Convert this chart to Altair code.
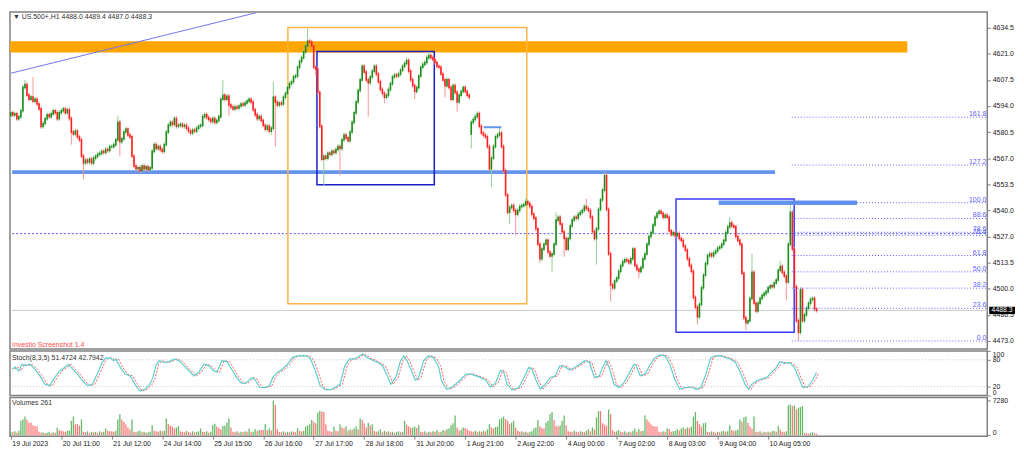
import altair as alt
import pandas as pd

FONT = "Liberation Sans"

# ---------------- data ----------------
# hourly closes, 25 bars per time-label interval
c0 = [4590.5, 4589.4, 4589.9, 4587.4, 4588.4, 4591.5, 4603.6, 4605.1, 4599.6, 4597.5, 4598.6, 4596.5, 4597.5,
      4595.0, 4592.5, 4583.4, 4584.9, 4587.4, 4589.4, 4588.4, 4589.9, 4591.5, 4590.5, 4587.4, 4590.5]
c1 = [4591.5, 4592.5, 4590.5, 4592.0, 4587.5, 4580.5, 4579.5, 4581.0, 4578.0, 4576.5, 4568.0, 4564.5, 4566.0,
      4565.0, 4566.5, 4564.5, 4567.0, 4568.0, 4569.0, 4569.5, 4570.5, 4570.0, 4571.5, 4571.0, 4573.0]
c2 = [4573.0, 4574.0, 4576.5, 4585.5, 4575.5, 4577.0, 4580.5, 4582.0, 4579.0, 4578.0, 4568.0, 4563.0, 4561.5,
      4562.0, 4560.5, 4563.0, 4561.5, 4562.5, 4561.0, 4562.0, 4570.5, 4574.0, 4572.0, 4573.0, 4571.5]
c3 = [4570.5, 4574.0, 4580.5, 4584.0, 4585.5, 4584.5, 4587.5, 4583.5, 4584.0, 4584.5, 4583.5, 4584.0, 4582.5,
      4581.0, 4580.0, 4581.5, 4581.0, 4582.5, 4583.5, 4584.0, 4588.5, 4589.5, 4588.0, 4587.0, 4586.0]
c4 = [4587.5, 4585.5, 4586.5, 4588.5, 4597.5, 4599.5, 4597.5, 4599.0, 4594.5, 4593.5, 4592.5, 4593.5, 4593.0,
      4594.0, 4595.0, 4594.5, 4595.5, 4596.5, 4597.5, 4596.0, 4592.0, 4589.5, 4587.5, 4588.5, 4586.5]
c5 = [4584.0, 4582.0, 4583.5, 4581.0, 4582.5, 4598.5, 4596.0, 4594.5, 4595.5, 4595.0, 4598.5, 4600.5, 4603.5,
      4605.5, 4606.5, 4609.0, 4609.5, 4614.0, 4617.0, 4619.0, 4622.0, 4625.0, 4627.5, 4627.0, 4625.0]
c6 = [4614.0, 4613.0, 4601.0, 4583.5, 4566.5, 4568.0, 4567.0, 4569.5, 4569.0, 4570.5, 4570.0, 4571.5, 4573.0,
      4572.0, 4576.5, 4579.0, 4577.5, 4576.0, 4580.5, 4585.5, 4590.5, 4596.0, 4602.0, 4607.5, 4614.5]
c7 = [4611.5, 4607.5, 4606.0, 4609.0, 4612.0, 4614.5, 4610.5, 4606.5, 4602.5, 4600.5, 4598.5, 4599.5, 4602.5,
      4605.5, 4609.0, 4610.0, 4609.5, 4610.5, 4612.5, 4614.5, 4616.0, 4617.5, 4612.0, 4607.5, 4604.5]
c8 = [4601.5, 4603.5, 4609.5, 4614.0, 4615.5, 4616.5, 4619.0, 4620.0, 4619.0, 4618.0, 4616.5, 4614.5, 4614.0,
      4610.5, 4607.5, 4604.5, 4607.5, 4603.5, 4597.5, 4604.5, 4601.0, 4596.0, 4599.5, 4601.5, 4603.5]
c9 = [4601.5, 4599.5, 4598.5, 4585.5, 4587.0, 4588.5, 4590.0, 4583.5, 4580.0, 4579.0, 4578.0, 4573.0, 4561.5,
      4567.0, 4573.0, 4578.0, 4579.0, 4580.0, 4573.0, 4560.5, 4548.0, 4539.0, 4541.5, 4542.5, 4540.0]
c10 = [4538.0, 4540.0, 4542.0, 4542.5, 4543.0, 4544.5, 4543.5, 4542.0, 4538.0, 4536.0, 4530.5, 4522.5, 4515.0,
       4520.0, 4522.5, 4524.5, 4518.5, 4516.5, 4517.5, 4522.5, 4535.0, 4536.5, 4533.0, 4529.0, 4525.5]
c11 = [4520.0, 4525.5, 4532.0, 4535.0, 4536.5, 4536.0, 4538.0, 4539.0, 4540.0, 4542.0, 4541.0, 4540.0, 4536.5,
       4529.0, 4525.5, 4530.5, 4540.5, 4545.5, 4550.5, 4558.0, 4540.5, 4517.5, 4501.5, 4500.0, 4503.5]
c12 = [4505.0, 4508.5, 4511.5, 4513.5, 4514.5, 4514.0, 4513.0, 4515.0, 4520.0, 4511.5, 4509.5, 4508.5, 4510.5,
       4515.0, 4517.5, 4522.5, 4526.5, 4528.5, 4532.5, 4536.5, 4538.5, 4539.5, 4538.5, 4536.5, 4537.5]
c13 = [4536.5, 4529.5, 4527.5, 4528.5, 4527.0, 4528.0, 4525.5, 4524.5, 4521.5, 4519.5, 4515.0, 4511.5, 4508.5,
       4495.0, 4490.0, 4485.0, 4491.5, 4500.0, 4506.5, 4512.5, 4516.5, 4517.5, 4516.5, 4518.0, 4519.0]
c14 = [4520.5, 4521.0, 4522.5, 4524.5, 4528.5, 4531.5, 4533.5, 4532.0, 4531.5, 4526.5, 4524.5, 4522.5, 4507.5,
       4484.5, 4482.0, 4483.0, 4494.5, 4508.0, 4492.0, 4488.0, 4492.0, 4494.5, 4496.0, 4497.0, 4498.0]
c15 = [4500.0, 4501.0, 4500.5, 4502.5, 4504.0, 4509.0, 4511.0, 4508.0, 4506.0, 4503.0, 4522.5, 4539.0, 4520.0,
       4500.5, 4483.0, 4477.0, 4499.0, 4483.0, 4486.0, 4489.5, 4492.0, 4494.0, 4494.5, 4489.0, 4488.3]
close = c0 + c1 + c2 + c3 + c4 + c5 + c6 + c7 + c8 + c9 + c10 + c11 + c12 + c13 + c14 + c15

first_open = 4589.0
open_gap = {228: 4579.5}
high_ext = {7: 4607.5, 11: 4609.0, 53: 4589.0, 105: 4607.5, 130: 4606.5, 147: 4634.0, 196: 4619.0,
            207: 4622.0, 242: 4583.5, 255: 4546.5, 270: 4539.0, 285: 4546.0, 294: 4560.0, 356: 4536.5,
            367: 4517.5, 381: 4514.0, 386: 4544.0}
low_ext = {30: 4574.0, 36: 4556.0, 54: 4568.0, 108: 4589.0, 129: 4579.0, 131: 4573.0, 151: 4609.5,
           155: 4553.0, 163: 4558.0, 177: 4588.5, 185: 4595.5, 200: 4597.5, 215: 4598.5, 221: 4591.0,
           228: 4572.0, 238: 4552.0, 247: 4533.0, 250: 4527.0, 262: 4513.0, 268: 4508.0, 274: 4516.0,
           290: 4512.0, 297: 4493.0, 311: 4505.0, 340: 4481.0, 364: 4478.0, 384: 4493.5, 390: 4472.5}
wick = 1.2

v0 = [700, 600, 800, 500, 900, 3000, 3300, 3900, 3300, 2600, 2600, 2100, 1900, 1800, 700, 500, 600, 400, 500, 700, 400, 600, 500, 1600, 1100]
v1 = [900, 800, 700, 900, 1000, 3000, 3900, 2300, 2300, 2000, 3300, 700, 600, 800, 500, 700, 600, 700, 500, 800, 600, 700, 1400, 900, 800]
v2 = [800, 700, 900, 3300, 4400, 3300, 2800, 2300, 1600, 1200, 3300, 700, 600, 800, 1000, 600, 700, 500, 600, 700, 2100, 900, 800, 700, 900]
v3 = [800, 900, 3500, 2300, 2000, 1800, 1400, 1600, 1900, 800, 700, 600, 900, 700, 500, 800, 600, 700, 800, 1400, 700, 600, 800, 500, 700]
v4 = [2100, 2400, 1800, 1500, 1250, 1900, 2000, 2600, 3500, 1600, 700, 600, 800, 500, 700, 600, 800, 700, 1400, 600, 700, 1250, 800, 1100, 1100]
v5 = [1100, 2300, 1100, 1400, 1000, 7280, 6400, 1250, 700, 600, 800, 500, 700, 600, 800, 700, 600, 1450, 900, 800, 900, 1800, 2000, 2300, 3200]
v6 = [2800, 2500, 4700, 5100, 4900, 4850, 2300, 900, 800, 700, 1800, 900, 800, 2300, 1600, 1400, 1800, 1000, 1200, 1100, 1400, 1800, 1200, 3500, 3200]
v7 = [2500, 1600, 2600, 2000, 2300, 900, 700, 800, 1250, 600, 900, 700, 800, 600, 700, 500, 700, 800, 600, 700, 3000, 2200, 1800, 1500, 1600]
v8 = [1800, 1500, 2100, 700, 600, 800, 500, 700, 600, 800, 700, 1100, 600, 700, 1100, 900, 1250, 1400, 2100, 2500, 4150, 1600, 1000, 1200, 1600]
v9 = [1500, 1250, 900, 800, 700, 900, 600, 800, 700, 900, 800, 1200, 2300, 1600, 1400, 1700, 1800, 3300, 3600, 3900, 3400, 3000, 2300, 2600, 3000]
v10 = [1600, 900, 700, 800, 600, 700, 500, 700, 800, 1400, 1600, 3200, 1800, 1500, 1400, 2600, 3000, 4400, 4850, 3200, 1950, 1800, 2100, 3000, 4150]
v11 = [2000, 800, 700, 600, 900, 700, 600, 800, 700, 600, 900, 1250, 800, 1600, 1200, 3700, 5050, 5050, 2500, 2200, 1950, 5400, 4400, 1000, 700]
v12 = [800, 1100, 700, 600, 800, 500, 700, 600, 900, 1400, 700, 1250, 800, 900, 4150, 3300, 2800, 2300, 1900, 1800, 1800, 700, 600, 800, 700]
v13 = [1400, 1300, 700, 800, 900, 1250, 1000, 1400, 1600, 1300, 1600, 1500, 1800, 3900, 4850, 3000, 2300, 1800, 2500, 2600, 700, 600, 800, 700, 500]
v14 = [700, 600, 800, 900, 700, 800, 2100, 1100, 900, 1000, 1200, 3300, 2800, 3700, 3900, 2600, 1800, 1400, 3900, 700, 600, 800, 500, 700, 600]
v15 = [700, 600, 800, 900, 700, 1950, 1200, 700, 600, 800, 6250, 6450, 6100, 6250, 5400, 5750, 5900, 6100, 500, 400, 300, 500, 600, 400, 261]
volume = v0 + v1 + v2 + v3 + v4 + v5 + v6 + v7 + v8 + v9 + v10 + v11 + v12 + v13 + v14 + v15

stoch_x = [0.6, 2.2, 3.9, 5.5, 7.1, 9.5, 12.0, 14.4, 16.9, 19.3,
           21.7, 24.2, 26.6, 28.7, 30.6, 33.1, 35.5, 38.0, 40.4, 42.8,
           45.3, 46.9, 49.3, 51.0, 52.1, 54.2, 56.6, 59.1, 61.5, 63.9,
           66.4, 68.8, 70.4, 72.0, 73.7, 76.1, 78.5, 81.0, 83.4, 85.8,
           88.3, 90.7, 93.1, 95.6, 98.0, 100.5, 102.1, 104.5, 107.0, 109.4,
           111.8, 114.3, 116.7, 119.1, 120.7, 123.2, 125.6, 128.1, 129.7, 132.1,
           134.5, 137.0, 139.4, 141.9, 144.3, 146.7, 148.4, 150.8, 153.2, 155.7,
           158.1, 160.5, 163.0, 165.4, 167.8, 170.3, 172.7, 174.3, 176.8, 179.2,
           181.6, 184.1, 186.5, 188.1, 190.6, 193.0, 194.6, 196.2, 198.7, 200.3,
           201.9, 204.4, 206.8, 209.2, 211.7, 213.3, 215.7, 218.2, 220.6, 223.0,
           225.5, 227.9, 230.3, 232.8, 235.2, 237.6, 240.1, 242.5, 244.1, 245.8,
           248.2, 251.6, 254.1, 256.5, 258.1, 259.8, 262.2, 264.6, 267.1, 269.5,
           271.9, 274.4, 276.8, 279.2, 281.7, 284.1, 286.5, 289.0, 291.4, 293.0,
           294.7, 296.3, 298.7, 301.1, 303.6, 306.0, 308.5, 309.6, 311.7, 314.1,
           316.6, 319.0, 321.4, 323.9, 326.3, 328.7, 331.2, 333.6, 336.9, 339.3,
           341.7, 344.2, 346.6, 349.0, 351.5, 353.9, 356.3, 358.8, 361.2, 363.6,
           365.3, 366.9, 369.3, 371.8, 374.2, 376.6, 379.1, 380.7, 383.1, 385.6,
           388.0, 390.4, 392.1, 394.5, 396.9, 398.9]
stoch_k = [59, 64, 55, 70, 67, 70, 59, 44, 25, 22,
           40, 55, 63, 70, 59, 48, 33, 22, 25, 48,
           74, 84, 84, 78, 82, 63, 48, 44, 25, 10,
           14, 25, 40, 70, 78, 74, 76, 82, 78, 67,
           55, 44, 52, 70, 67, 55, 52, 78, 76, 59,
           40, 27, 29, 40, 37, 18, 18, 22, 40, 52,
           59, 70, 85, 89, 89, 89, 82, 55, 22, 13,
           13, 18, 25, 67, 82, 82, 89, 93, 84, 79,
           74, 67, 44, 25, 40, 78, 89, 78, 52, 34,
           40, 78, 89, 85, 67, 33, 14, 18, 27, 37,
           48, 48, 44, 40, 34, 19, 29, 57, 52, 25,
           12, 18, 40, 63, 59, 37, 14, 25, 40, 44,
           67, 64, 57, 63, 70, 78, 74, 40, 44, 63,
           78, 63, 25, 18, 29, 48, 70, 67, 44, 48,
           70, 85, 91, 89, 70, 37, 14, 18, 19, 14,
           18, 48, 85, 89, 89, 85, 82, 74, 52, 25,
           14, 25, 33, 37, 40, 52, 63, 76, 72, 74,
           63, 37, 18, 19, 33, 51.47]
signal_lag = 1.2

time_labels = ["19 Jul 2023", "20 Jul 11:00", "21 Jul 12:00", "24 Jul 14:00", "25 Jul 15:00", "26 Jul 16:00",
               "27 Jul 17:00", "28 Jul 18:00", "31 Jul 20:00", "1 Aug 21:00", "2 Aug 22:00", "4 Aug 00:00",
               "7 Aug 02:00", "8 Aug 03:00", "9 Aug 04:00", "10 Aug 05:00"]
time_label_bars = [0, 25, 50, 75, 100, 125, 150, 175, 200, 225, 250, 275, 300, 325, 350, 375]

price_ticks = [4634.5, 4621.0, 4607.5, 4594.0, 4580.5, 4567.0, 4553.5, 4540.0, 4526.5, 4513.0, 4499.5, 4486.0, 4472.5]
price_tick_text = ["4634.5", "4621.0", "4607.5", "4594.0", "4580.5", "4567.0", "4553.5", "4540.0", "4527.0",
                   "4513.5", "4500.0", "4486.5", "4473.0"]

fib_pct = [0.0, 23.6, 38.2, 50.0, 61.8, 76.4, 78.6, 88.6, 100.0, 127.2, 161.8]
fib_low, fib_high = 4472.5, 4544.0

last_price = 4488.3
header = "\u25bc US.500+,H1  4488.0 4489.4 4487.0 4488.3"
stoch_title = "Stoch(8,3,5) 51.4724 42.7942"
vol_title = "Volumes 261"
watermark = "Investio Screenshot 1.4"

# ---------------- tables ----------------
n = min(len(close), len(volume))
recs = []
prev_c = first_open
prev_v = None
for i in range(n):
    o = open_gap.get(i, prev_c)
    c = close[i]
    up = c >= o
    vup = prev_v is None or volume[i] > prev_v
    recs.append({
        "bar": i, "open": o, "close": c,
        "high": high_ext.get(i, max(o, c) + wick),
        "low": low_ext.get(i, min(o, c) - wick),
        "bcol": "#1a8c1a" if up else "#ff1f1f",
        "wcol": "#93cf93" if up else "#ff9595",
        "vol": volume[i], "zero": 0,
        "vcol": "#4cab4c" if vup else "#ff6262",
    })
    prev_c = c
    prev_v = volume[i]
bars = pd.DataFrame(recs)

XMIN, XMAX = -0.4, 483.5
XS = alt.Scale(domain=[XMIN, XMAX], nice=False, zero=False)
PS = alt.Scale(domain=[4468.4, 4642.6], nice=False, zero=False)
SS = alt.Scale(domain=[0, 100], nice=False, zero=False)
VS = alt.Scale(domain=[-208, 7904], nice=False, zero=False)
W = 986
LEFT_IN = 0.7  # line starts just inside the frame

p_expr = ("[" + ",".join("'%s'" % t for t in price_tick_text) + "][indexof(["
          + ",".join(str(v) for v in price_ticks) + "], datum.value)]")
paxis = alt.Axis(orient="right", values=price_ticks, labelExpr=p_expr, tickSize=3, tickColor="#808080",
                 domain=False, grid=False, labelFontSize=7, labelFont=FONT, labelColor="#222222",
                 labelPadding=2, title=None, labelOverlap=False)
saxis = alt.Axis(orient="right", values=[0, 20, 80, 100], format="d", tickSize=3, tickColor="#808080",
                 domain=False, grid=False, labelFontSize=7, labelFont=FONT, labelColor="#222222",
                 labelPadding=2, title=None, labelOverlap=False, labelFlush=3)
vaxis = alt.Axis(orient="right", values=[0, 7280], format="d", tickSize=3, tickColor="#808080",
                 domain=False, grid=False, labelFontSize=7, labelFont=FONT, labelColor="#222222",
                 labelPadding=2, title=None, labelOverlap=False, labelFlush=2)
t_expr = ("[" + ",".join("'%s'" % t for t in time_labels) + "][indexof(["
          + ",".join(str(v) for v in time_label_bars) + "], datum.value)]")
xaxis = alt.Axis(values=time_label_bars, labelExpr=t_expr, tickSize=3, tickColor="#808080", domain=False,
                 grid=False, labelAlign="left", labelOffset=1, labelPadding=0, labelFontSize=7,
                 labelFont=FONT, labelColor="#222222", title=None, labelOverlap=False, labelFlush=False)


def px(f):
    return alt.X(f, type="quantitative", scale=XS, axis=None)


def py(f):
    return alt.Y(f, type="quantitative", scale=PS, axis=paxis)


def label(text, x, y, color="#333333"):
    return alt.Chart(pd.DataFrame({"t": [text]})).mark_text(
        align="left", baseline="middle", font=FONT, fontSize=7, color=color
    ).encode(x=alt.value(x), y=alt.value(y), text="t:N")


full = pd.DataFrame({"x0": [LEFT_IN], "x1": [XMAX]})
price_line = alt.Chart(full.assign(y=last_price)).mark_rule(color="#c9c9c9", strokeWidth=1).encode(
    x=px("x0"), x2="x1", y=py("y"))
level_line = alt.Chart(full.assign(y=4528.0)).mark_rule(color="#5656f2", strokeWidth=1, strokeDash=[2, 2]).encode(
    x=px("x0"), x2="x1", y=py("y"))
band = alt.Chart(pd.DataFrame({"x0": [XMIN], "x1": [443.9], "y0": [4621.6], "y1": [4627.4]})).mark_rect(
    color="#FFA500").encode(x=px("x0"), x2="x1", y=py("y0"), y2="y1")
support = alt.Chart(pd.DataFrame({"x0": [LEFT_IN], "x1": [378.4], "y": [4559.8]})).mark_rule(
    color="#6494ec", strokeWidth=4).encode(x=px("x0"), x2="x1", y=py("y"))
trend = alt.Chart(pd.DataFrame({"x": [0.0, 121.5], "y": [4610.9, 4642.2]})).mark_line(
    color="#7272f2", strokeWidth=1).encode(x=px("x"), y=py("y"))
boxes = alt.Chart(pd.DataFrame({
    "x0": [137.2, 151.6, 329.4], "x1": [255.5, 209.7, 387.9],
    "y0": [4491.7, 4553.3, 4477.0], "y1": [4634.5, 4622.2, 4545.9],
    "col": ["#ffb347", "#1c1cc8", "#3a3aff"]})).mark_rect(fillOpacity=0, strokeWidth=1.5).encode(
    x=px("x0"), x2="x1", y=py("y0"), y2="y1", stroke=alt.Stroke("col:N", scale=None))
wicks = alt.Chart(bars).mark_rule(strokeWidth=1).encode(
    x=px("bar"), y=py("low"), y2="high", color=alt.Color("wcol:N", scale=None))
bodies = alt.Chart(bars).mark_rule(strokeWidth=1.6, strokeCap="square").encode(
    x=px("bar"), y=py("open"), y2="close", color=alt.Color("bcol:N", scale=None))
short_line = alt.Chart(pd.DataFrame({"x0": [234.1], "x1": [242.9], "y": [4583.0]})).mark_rule(
    color="#6494ec", strokeWidth=2).encode(x=px("x0"), x2="x1", y=py("y"))
top_bar = alt.Chart(pd.DataFrame({"x0": [350.5], "x1": [419.0], "y": [4544.0]})).mark_rule(
    color="#6494ec", strokeWidth=4.5).encode(x=px("x0"), x2="x1", y=py("y"))

fib = pd.DataFrame({"pct": fib_pct})
fib["price"] = fib_low + (fib_high - fib_low) * fib["pct"] / 100.0
fib["label"] = fib["pct"].map(lambda v: "%.1f" % v)
fib["x0"] = 386.7
fib["x1"] = XMAX
fib_lines = alt.Chart(fib).mark_rule(color="#5e5eff", strokeWidth=1, strokeDash=[1, 2]).encode(
    x=px("x0"), x2="x1", y=py("price"))
fib_text = alt.Chart(fib).mark_text(align="right", baseline="bottom", font=FONT, fontSize=7,
                                    color="#6060ff").encode(x=alt.value(W - 1), y=py("price"), text="label:N")

tag = pd.DataFrame({"y0": [last_price - 1.9], "y1": [last_price + 1.9], "p": [last_price],
                    "t": ["%.1f" % last_price]})
tag_box = alt.Chart(tag).mark_rect(color="#000000").encode(
    x=alt.value(W + 2), x2=alt.value(W + 28), y=py("y0"), y2="y1")
tag_text = alt.Chart(tag).mark_text(align="center", baseline="middle", font=FONT, fontSize=7,
                                    color="#ffffff").encode(x=alt.value(W + 15), y=py("p"), text="t:N")

main = alt.layer(
    price_line, level_line, band, support, trend, boxes, wicks, bodies, short_line, top_bar,
    fib_lines, fib_text, label(header, 3, 5.5), label(watermark, 2, 336, "#ff4d4d"), tag_box, tag_text
).properties(width=W, height=340)

# stochastic panel
stoch = pd.DataFrame({"x": stoch_x, "k": stoch_k})
signal = pd.DataFrame({"x": [v + signal_lag for v in stoch_x], "d": stoch_k})
lv = pd.DataFrame({"x0": [LEFT_IN, LEFT_IN], "x1": [XMAX, XMAX], "y": [20, 80]})
s_levels = alt.Chart(lv).mark_rule(color="#c6c6c6", strokeWidth=1, strokeDash=[1, 2]).encode(
    x=px("x0"), x2="x1", y=alt.Y("y:Q", scale=SS, axis=saxis))
s_d = alt.Chart(signal).mark_line(color="#ff5a5a", strokeWidth=1, strokeDash=[2, 1.5]).encode(
    x=px("x"), y=alt.Y("d:Q", scale=SS, axis=saxis))
s_k = alt.Chart(stoch).mark_line(color="#5ccfcf", strokeWidth=1.2).encode(
    x=px("x"), y=alt.Y("k:Q", scale=SS, axis=saxis))
stoch_panel = alt.layer(s_levels, s_d, s_k, label(stoch_title, 2, 7)).properties(width=W, height=45)

# volume panel
v_bars = alt.Chart(bars).mark_rule(strokeWidth=1.3, opacity=0.85).encode(
    x=alt.X("bar:Q", scale=XS, axis=xaxis), y=alt.Y("vol:Q", scale=VS, axis=vaxis), y2="zero",
    color=alt.Color("vcol:N", scale=None))
vol_panel = alt.layer(v_bars, label(vol_title, 2, 6)).properties(width=W, height=39)

chart = alt.vconcat(main, stoch_panel, vol_panel, spacing=2, bounds="flush").properties(
    padding=0, background="white"
).configure_view(stroke="#808080", strokeWidth=1.5)

chart.save("out.html", embed_options={"renderer": "svg", "actions": False})
